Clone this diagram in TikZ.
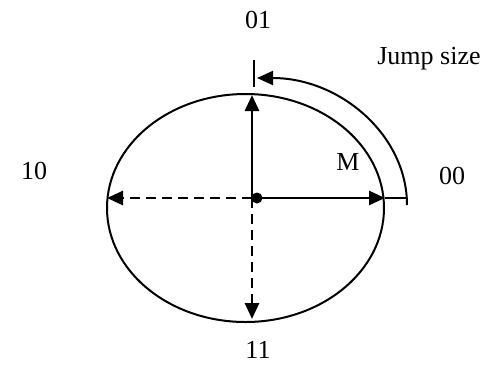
\documentclass[tikz,border=0pt]{standalone}
\usepackage{fontspec}
\setmainfont{Liberation Serif}
\usetikzlibrary{arrows.meta}
\begin{document}
\begin{tikzpicture}[x=1pt,y=-1pt,
  lbl/.style={font=\fontsize{26}{30}\selectfont, inner sep=0pt},
  axis/.style={line width=2.7pt, -{Triangle[length=16pt,width=14pt]}},
  daxis/.style={axis, dash pattern=on 10pt off 6pt},
  oval/.style={line width=2pt}]
\useasboundingbox (0,0) rectangle (484,365);
\coordinate (C) at (245.5,208);
\draw[oval] (C) ellipse [x radius=138.5, y radius=114];
\coordinate (O) at (252,198);
\coordinate (N) at (252,95);
\coordinate (E) at (385,198);
\coordinate (W) at (107,198);
\coordinate (S) at (252,319);
\coordinate (R) at (407,198);
\coordinate (A1) at (407,205);
\coordinate (A2) at (257,78);
\coordinate (T1) at (254,60);
\coordinate (T2) at (254,87);
\draw[daxis] (O) -- (W);
\draw[daxis] (O) -- (S);
\draw[axis] (O) -- (N);
\draw[axis] (O) -- (E);
\draw[line width=1.8pt] (E) -- (R);
\draw[line width=2pt, -{Triangle[length=16pt,width=14pt]}] (A1) .. controls (407,135) and (340,78) .. (A2);
\draw[line width=1.8pt] (T1) -- (T2);
\fill (O) ++(5,0) circle [radius=5.5] node (dot) {};
\node[lbl] (l01) at (258,20) {01};
\node[lbl] (l10) at (34,171) {10};
\node[lbl] (l00) at (452,176) {00};
\node[lbl] (l11) at (258,350) {11};
\node[lbl] (lM) at (348,162) {M};
\node[lbl] (lJ) at (429,59) {Jump size};
\end{tikzpicture}
\end{document}
